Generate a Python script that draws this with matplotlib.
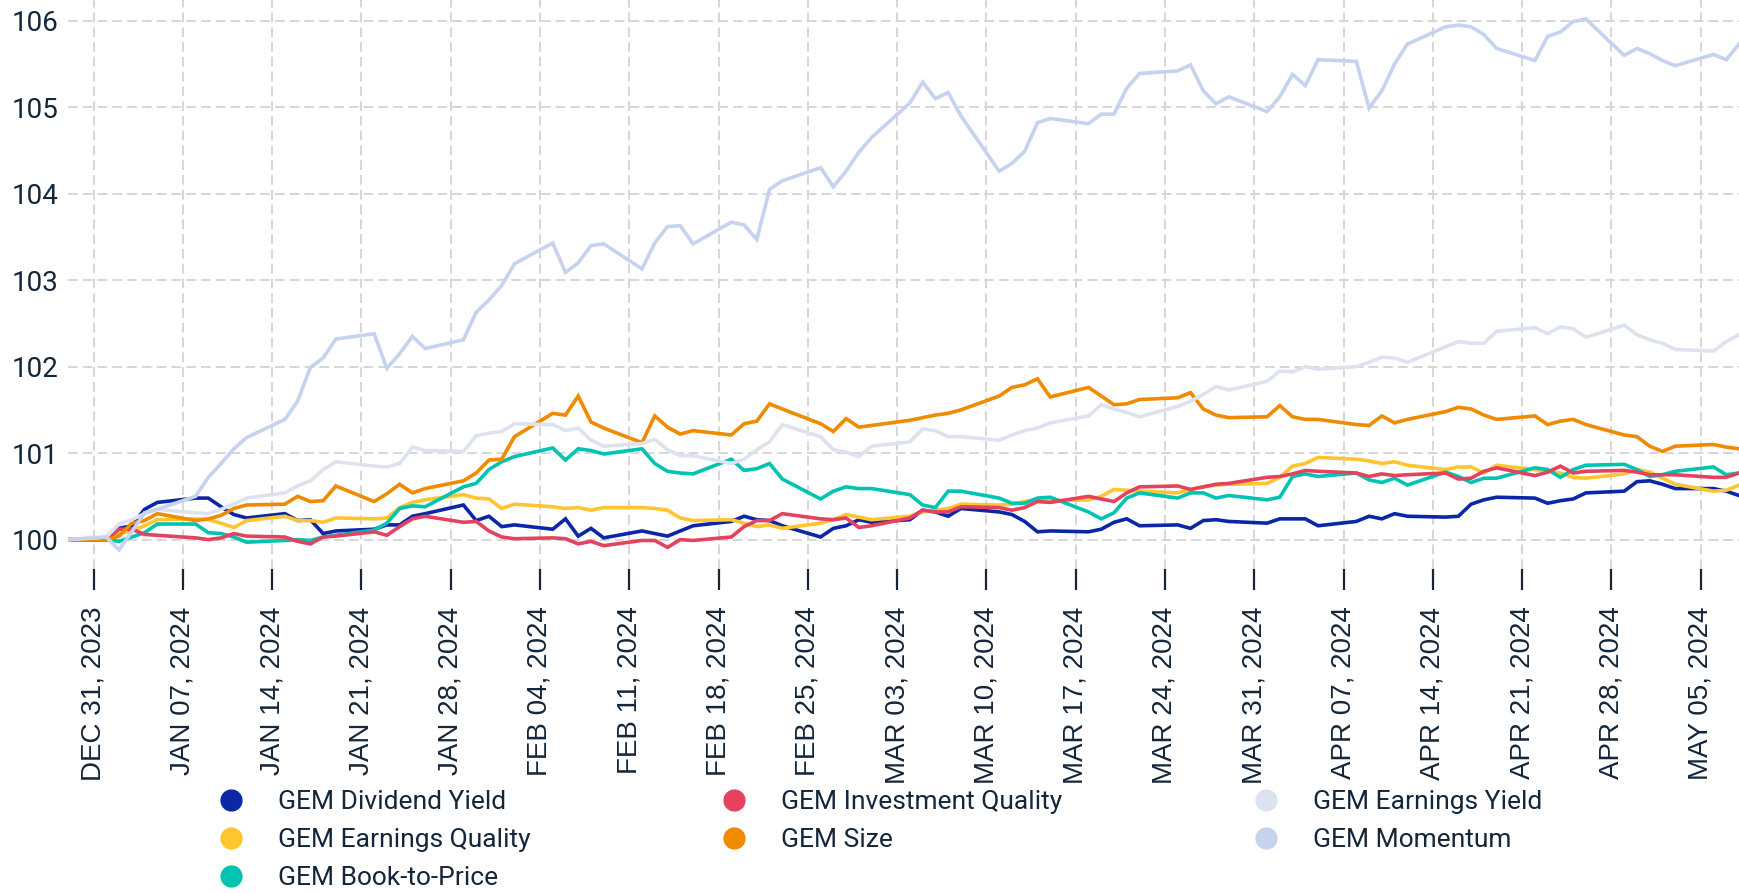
import matplotlib
matplotlib.use('Agg')
import matplotlib.pyplot as plt
import matplotlib.dates as mdates
from matplotlib.lines import Line2D
import pandas as pd

# weekday closes, Dec 29 2023 .. May 8 2024 (indexed to 100)
dates = pd.bdate_range('2023-12-29', '2024-05-08')

dividend_yield = [
    100.00,
    100.00, 100.13, 100.16, 100.35, 100.43,
    100.48, 100.48, 100.38, 100.29, 100.25,
    100.30, 100.22, 100.23, 100.07, 100.10,
    100.12, 100.17, 100.17, 100.27, 100.30,
    100.40, 100.22, 100.27, 100.15, 100.17,
    100.12, 100.24, 100.04, 100.13, 100.02,
    100.10, 100.07, 100.04, 100.10, 100.16,
    100.21, 100.27, 100.23, 100.22, 100.16,
    100.03, 100.13, 100.16, 100.23, 100.20,
    100.23, 100.34, 100.32, 100.27, 100.36,
    100.32, 100.29, 100.21, 100.09, 100.10,
    100.09, 100.12, 100.20, 100.24, 100.16,
    100.17, 100.13, 100.22, 100.23, 100.21,
    100.19, 100.24, 100.24, 100.24, 100.16,
    100.21, 100.27, 100.24, 100.30, 100.27,
    100.26, 100.27, 100.41, 100.46, 100.49,
    100.48, 100.42, 100.45, 100.47, 100.54,
    100.56, 100.67, 100.68, 100.64, 100.59,
    100.59, 100.56, 100.51,
]

earnings_quality = [
    100.00,
    100.00, 100.07, 100.10, 100.16, 100.23,
    100.24, 100.23, 100.19, 100.14, 100.22,
    100.27, 100.22, 100.22, 100.20, 100.25,
    100.24, 100.25, 100.37, 100.43, 100.46,
    100.52, 100.48, 100.47, 100.36, 100.41,
    100.38, 100.36, 100.37, 100.34, 100.37,
    100.37, 100.36, 100.34, 100.25, 100.22,
    100.23, 100.19, 100.15, 100.17, 100.13,
    100.19, 100.23, 100.29, 100.26, 100.23,
    100.27, 100.32, 100.34, 100.36, 100.41,
    100.40, 100.41, 100.44, 100.46, 100.45,
    100.46, 100.50, 100.58, 100.57, 100.56,
    100.54, 100.58, 100.61, 100.63, 100.64,
    100.65, 100.72, 100.85, 100.88, 100.95,
    100.93, 100.91, 100.88, 100.90, 100.86,
    100.81, 100.84, 100.84, 100.77, 100.86,
    100.81, 100.79, 100.77, 100.72, 100.71,
    100.76, 100.81, 100.78, 100.71, 100.64,
    100.56, 100.57, 100.63,
]

book_to_price = [
    100.00,
    100.00, 99.98, 100.03, 100.08, 100.18,
    100.18, 100.08, 100.07, 100.03, 99.97,
    99.99, 100.00, 99.99, 100.03, 100.05,
    100.11, 100.19, 100.36, 100.39, 100.38,
    100.61, 100.65, 100.81, 100.90, 100.96,
    101.06, 100.92, 101.05, 101.03, 100.99,
    101.05, 100.88, 100.79, 100.77, 100.76,
    100.93, 100.80, 100.82, 100.88, 100.70,
    100.47, 100.56, 100.61, 100.59, 100.59,
    100.52, 100.40, 100.37, 100.56, 100.56,
    100.48, 100.42, 100.42, 100.48, 100.49,
    100.32, 100.24, 100.31, 100.48, 100.54,
    100.48, 100.54, 100.54, 100.48, 100.51,
    100.46, 100.49, 100.73, 100.76, 100.73,
    100.77, 100.69, 100.66, 100.71, 100.63,
    100.78, 100.73, 100.66, 100.71, 100.71,
    100.83, 100.81, 100.72, 100.81, 100.86,
    100.87, 100.81, 100.73, 100.75, 100.79,
    100.84, 100.75, 100.77,
]

investment_quality = [
    100.00,
    100.00, 100.12, 100.12, 100.06, 100.05,
    100.02, 100.00, 100.02, 100.07, 100.04,
    100.03, 99.98, 99.95, 100.03, 100.04,
    100.09, 100.05, 100.15, 100.24, 100.27,
    100.20, 100.21, 100.10, 100.03, 100.01,
    100.02, 100.01, 99.95, 99.98, 99.93,
    99.99, 99.99, 99.91, 100.00, 99.99,
    100.03, 100.15, 100.22, 100.22, 100.30,
    100.24, 100.23, 100.25, 100.14, 100.16,
    100.25, 100.34, 100.32, 100.32, 100.38,
    100.37, 100.34, 100.37, 100.44, 100.43,
    100.50, 100.47, 100.44, 100.54, 100.61,
    100.62, 100.58, 100.61, 100.64, 100.65,
    100.72, 100.73, 100.76, 100.80, 100.79,
    100.77, 100.73, 100.76, 100.74, 100.75,
    100.77, 100.70, 100.71, 100.79, 100.83,
    100.74, 100.78, 100.85, 100.77, 100.79,
    100.80, 100.78, 100.75, 100.75, 100.75,
    100.72, 100.72, 100.77,
]

size = [
    100.00,
    100.00, 100.04, 100.19, 100.22, 100.30,
    100.22, 100.24, 100.28, 100.36, 100.40,
    100.41, 100.50, 100.44, 100.45, 100.62,
    100.44, 100.53, 100.64, 100.54, 100.59,
    100.68, 100.77, 100.92, 100.93, 101.19,
    101.46, 101.44, 101.66, 101.36, 101.29,
    101.12, 101.43, 101.30, 101.22, 101.26,
    101.21, 101.34, 101.37, 101.57, 101.51,
    101.34, 101.25, 101.40, 101.30, 101.32,
    101.38, 101.41, 101.44, 101.46, 101.50,
    101.66, 101.76, 101.79, 101.86, 101.65,
    101.76, 101.66, 101.56, 101.57, 101.62,
    101.64, 101.70, 101.51, 101.44, 101.41,
    101.42, 101.55, 101.42, 101.39, 101.39,
    101.33, 101.32, 101.43, 101.35, 101.39,
    101.48, 101.53, 101.51, 101.44, 101.39,
    101.43, 101.33, 101.37, 101.39, 101.33,
    101.21, 101.19, 101.08, 101.02, 101.08,
    101.10, 101.07, 101.05,
]

earnings_yield = [
    100.00,
    100.03, 100.18, 100.23, 100.30, 100.35,
    100.31, 100.30, 100.35, 100.41, 100.48,
    100.54, 100.62, 100.68, 100.81, 100.90,
    100.85, 100.84, 100.88, 101.07, 101.03,
    101.02, 101.20, 101.23, 101.25, 101.34,
    101.33, 101.26, 101.29, 101.15, 101.08,
    101.11, 101.16, 101.04, 100.97, 100.97,
    100.88, 100.93, 101.04, 101.13, 101.33,
    101.19, 101.04, 101.01, 100.96, 101.08,
    101.13, 101.28, 101.26, 101.19, 101.19,
    101.15, 101.21, 101.26, 101.29, 101.35,
    101.43, 101.56, 101.51, 101.47, 101.42,
    101.54, 101.60, 101.68, 101.77, 101.73,
    101.83, 101.95, 101.94, 102.00, 101.97,
    102.00, 102.05, 102.11, 102.10, 102.05,
    102.23, 102.29, 102.27, 102.27, 102.41,
    102.45, 102.38, 102.46, 102.44, 102.34,
    102.48, 102.37, 102.31, 102.27, 102.20,
    102.18, 102.29, 102.37,
]

momentum = [
    100.00,
    100.03, 99.88, 100.09, 100.31, 100.35,
    100.50, 100.72, 100.88, 101.05, 101.18,
    101.39, 101.60, 101.99, 102.10, 102.32,
    102.38, 101.98, 102.15, 102.35, 102.21,
    102.31, 102.63, 102.77, 102.94, 103.19,
    103.43, 103.09, 103.20, 103.40, 103.42,
    103.13, 103.43, 103.62, 103.63, 103.42,
    103.67, 103.64, 103.47, 104.05, 104.15,
    104.30, 104.08, 104.26, 104.48, 104.65,
    105.05, 105.29, 105.10, 105.17, 104.90,
    104.26, 104.35, 104.49, 104.82, 104.87,
    104.81, 104.92, 104.92, 105.22, 105.39,
    105.42, 105.49, 105.19, 105.04, 105.12,
    104.95, 105.12, 105.38, 105.25, 105.55,
    105.53, 104.99, 105.19, 105.50, 105.73,
    105.93, 105.95, 105.93, 105.84, 105.68,
    105.54, 105.82, 105.87, 105.99, 106.02,
    105.60, 105.68, 105.62, 105.54, 105.48,
    105.61, 105.55, 105.73,
]

labels = ['GEM Dividend Yield', 'GEM Earnings Quality', 'GEM Book-to-Price',
          'GEM Investment Quality', 'GEM Size', 'GEM Earnings Yield', 'GEM Momentum']
series = [dividend_yield, earnings_quality, book_to_price,
          investment_quality, size, earnings_yield, momentum]
colors = ['#0b27a6', '#ffc52f', '#00c3b1', '#e3435f', '#f08a00', '#dde3ee', '#c6d3ee']

tick_dates = pd.date_range('2023-12-31', '2024-05-05', freq='7D')
y_ticks = [100, 101, 102, 103, 104, 105, 106]

text_color = '#14263a'

fig = plt.figure(figsize=(17.39, 8.94), dpi=100)
ax = fig.add_axes([68 / 1739, 1 - 569 / 894, 1 - 68 / 1739, 569 / 894])

for vals, col, lab in zip(series, colors, labels):
    ax.plot(dates, vals, color=col, lw=2.6, label=lab, solid_joinstyle='miter')

ax.set_xlim(dates[0], dates[-1])
ax.set_ylim(99.66, 106.24)
ax.set_yticks(y_ticks)
ax.set_xticks(tick_dates)
ax.xaxis.set_major_formatter(mdates.DateFormatter('%b %d, %Y'))
ax.set_xticklabels([d.strftime('%b %d, %Y').upper() for d in tick_dates],
                   rotation=90, family='Liberation Sans', fontsize=20, color=text_color)
for t in ax.get_yticklabels():
    t.set_family('Roboto')
    t.set_fontsize(20)
    t.set_color(text_color)

ax.grid(True, color='#d6d6d6', linestyle=(0, (5, 2.6)), linewidth=1.4)
ax.set_axisbelow(True)
for s in ax.spines.values():
    s.set_visible(False)
ax.tick_params(axis='x', length=15, width=1.6, color='#1a2533', pad=12)
ax.tick_params(axis='y', length=0, pad=7)

handles = [Line2D([], [], marker='o', linestyle='none', markersize=15,
                  markerfacecolor=c, markeredgecolor=c) for c in colors]
fig.legend(handles, labels, loc='upper left', bbox_to_anchor=(205 / 1739, 1 - 777 / 894),
           ncol=3, frameon=False, borderpad=0, handlelength=1.0, handletextpad=1.28,
           columnspacing=7.2, labelspacing=0.53, labelcolor=text_color,
           prop={'family': 'Roboto', 'size': 19})

fig.savefig('out.png', dpi=100)
